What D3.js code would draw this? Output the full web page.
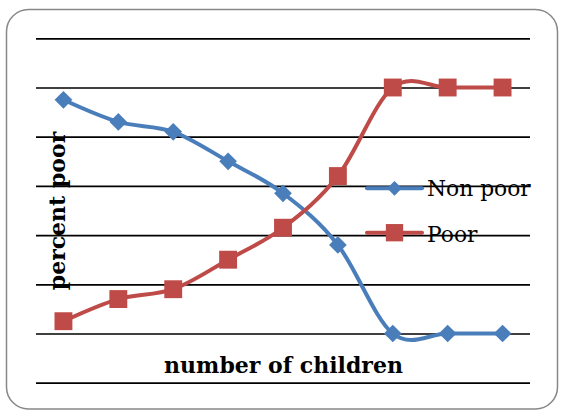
<!DOCTYPE html>
<html>
<head>
<meta charset="utf-8">
<script src="https://cdn.jsdelivr.net/npm/d3@7"></script>
<style>
  html, body { margin: 0; padding: 0; background: #fff; }
  svg { display: block; }
</style>
</head>
<body>
<script>
// Share of households by number of children
const categories = [1, 2, 3, 4, 5, 6, 7, 8, 9];
const nonPoor = [95, 86, 82, 70, 57, 36, 0, 0, 0];
const poor = [5, 14, 18, 30, 43, 64, 100, 100, 100];
const yTicks = [-20, 0, 20, 40, 60, 80, 100, 120];
const seriesNames = ["Non poor", "Poor"];

const W = 561, H = 411;
const plot = { left: 36, right: 530, top: 38.3, bottom: 382.7 };

const svg = d3.select("body").append("svg")
  .attr("width", W).attr("height", H);

// outer chart frame
svg.append("rect")
  .attr("x", 6.5).attr("y", 9.5)
  .attr("width", 551).attr("height", 399.5)
  .attr("rx", 22).attr("ry", 22)
  .attr("fill", "#fff")
  .attr("stroke", "#888").attr("stroke-width", 1.5);

const x = d3.scaleBand()
  .domain(categories)
  .range([plot.left, plot.right]);

const y = d3.scaleLinear()
  .domain([-20, 120])
  .range([plot.bottom, plot.top]);

const cx = d => x(d) + x.bandwidth() / 2;

// y label (drawn before the grid so the grid crosses it)
svg.append("text")
  .attr("transform", `translate(65,${(plot.top + plot.bottom) / 2 + 0.5}) rotate(-90)`)
  .attr("text-anchor", "middle")
  .attr("font-family", "DejaVu Serif")
  .attr("font-weight", "bold")
  .attr("font-size", 22)
  .text("percent poor");

// x label
svg.append("text")
  .attr("x", 283.5).attr("y", 373)
  .attr("text-anchor", "middle")
  .attr("font-family", "DejaVu Serif")
  .attr("font-weight", "bold")
  .attr("font-size", 22)
  .text("number of children");

// horizontal gridlines
const yAxis = d3.axisLeft(y)
  .tickValues(yTicks)
  .tickSize(-(plot.right - plot.left))
  .tickFormat("");
const gy = svg.append("g")
  .attr("transform", `translate(${plot.left},0)`)
  .call(yAxis);
gy.select(".domain").remove();
gy.selectAll(".tick line")
  .attr("stroke", "#000")
  .attr("stroke-width", 1.7);

const line = d3.line()
  .x((d, i) => cx(categories[i]))
  .y(d => y(d))
  .curve(d3.curveCardinal.tension(0));

const blue = "#4A7EBB", red = "#BE4B48";
const diamond = d3.symbol().type(d3.symbolDiamond2).size(200);
const square = d3.symbol().type(d3.symbolSquare).size(320);

// Non poor
svg.append("path")
  .datum(nonPoor)
  .attr("d", line)
  .attr("fill", "none")
  .attr("stroke", blue)
  .attr("stroke-width", 4)
  .attr("stroke-linejoin", "round");
svg.append("g").selectAll("path")
  .data(nonPoor)
  .join("path")
  .attr("d", diamond)
  .attr("transform", (d, i) => `translate(${cx(categories[i])},${y(d)})`)
  .attr("fill", blue);

// Poor
svg.append("path")
  .datum(poor)
  .attr("d", line)
  .attr("fill", "none")
  .attr("stroke", red)
  .attr("stroke-width", 4)
  .attr("stroke-linejoin", "round");
svg.append("g").selectAll("path")
  .data(poor)
  .join("path")
  .attr("d", square)
  .attr("transform", (d, i) => `translate(${cx(categories[i])},${y(d)})`)
  .attr("fill", red);

// legend
const legend = svg.append("g");
const legendRows = [
  { name: seriesNames[0], color: blue, sym: d3.symbol().type(d3.symbolDiamond2).size(140), ly: 188.3, ty: 196 },
  { name: seriesNames[1], color: red, sym: d3.symbol().type(d3.symbolSquare).size(300), ly: 232.7, ty: 241.5 }
];
legendRows.forEach(r => {
  legend.append("line")
    .attr("x1", 367).attr("x2", 422)
    .attr("y1", r.ly).attr("y2", r.ly)
    .attr("stroke", r.color).attr("stroke-width", 4)
    .attr("stroke-linecap", "round");
  legend.append("path")
    .attr("d", r.sym)
    .attr("transform", `translate(394.5,${r.ly})`)
    .attr("fill", r.color);
  legend.append("text")
    .attr("x", 427).attr("y", r.ty)
    .attr("font-family", "DejaVu Serif")
    .attr("font-size", 21.8)
    .attr("fill", "#000")
    .text(r.name);
});
</script>
</body>
</html>
